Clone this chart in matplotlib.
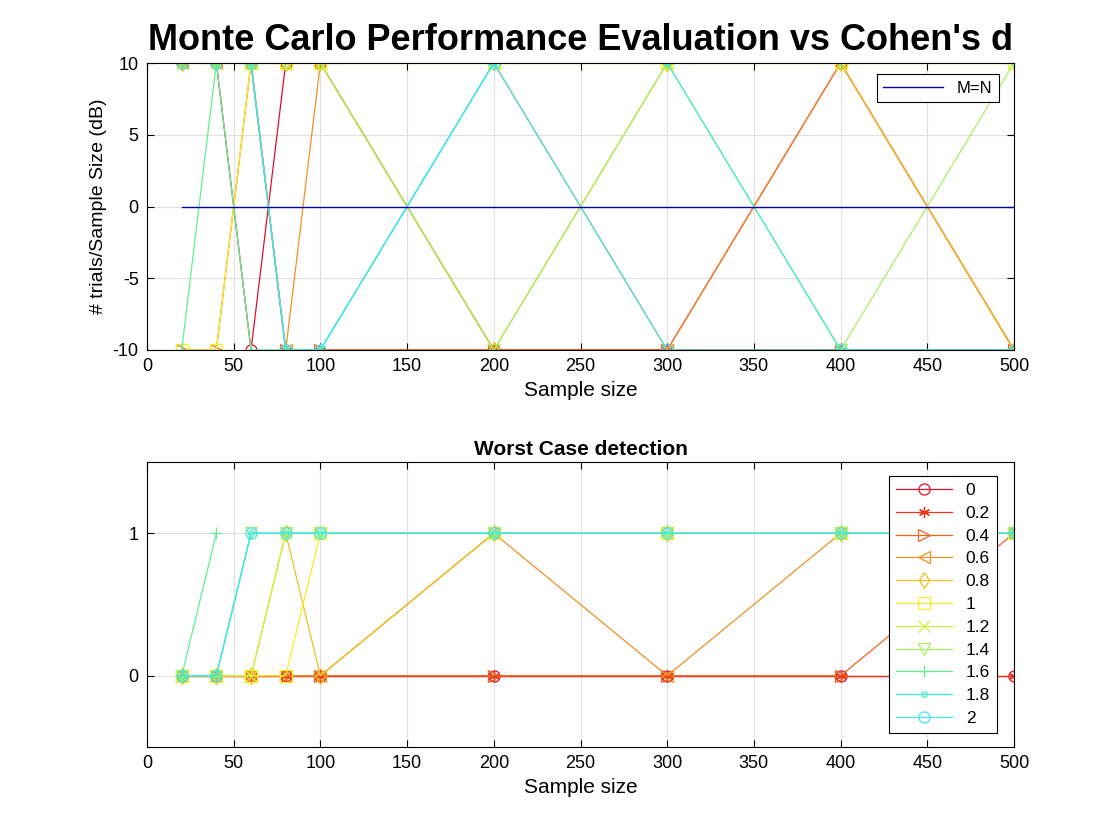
import numpy as np
import matplotlib
matplotlib.use("Agg")
import matplotlib.pyplot as plt

plt.rcParams['font.family'] = ['Liberation Sans', 'DejaVu Sans']
plt.rcParams['axes.unicode_minus'] = False

sample_size = [20, 40, 60, 80, 100, 200, 300, 400, 500]
cohens_d = ['0', '0.2', '0.4', '0.6', '0.8', '1', '1.2', '1.4', '1.6', '1.8', '2']

# Top: # trials / sample size (dB)
db_0 = [10, 10, -10, 10, 10, -10, -10, 10, -10]
db_02 = [10, 10, 10, -10, -10, -10, -10, -10, -10]
db_04 = [-10, -10, 10, -10, -10, -10, -10, -10, -10]
db_06 = [10, 10, 10, -10, 10, 10, -10, 10, -10]
db_08 = [10, 10, 10, 10, 10, -10, 10, 10, -10]
db_10 = [-10, -10, 10, 10, 10, 10, 10, 10, 10]
db_12 = [10, 10, 10, 10, 10, 10, 10, 10, 10]
db_14 = [10, 10, 10, 10, 10, -10, 10, -10, 10]
db_16 = [-10, 10, -10, -10, -10, 10, 10, 10, 10]
db_18 = [10, 10, 10, -10, -10, 10, 10, -10, -10]
db_20 = [10, 10, 10, -10, -10, 10, -10, -10, -10]
mn_line = [0, 0, 0, 0, 0, 0, 0, 0, 0]

# Bottom: worst case detection
wc_0 = [0, 0, 0, 0, 0, 0, 0, 0, 0]
wc_02 = [0, 0, 0, 0, 0, 0, 0, 0, 0]
wc_04 = [0, 0, 0, 0, 0, 0, 0, 0, 1]
wc_06 = [0, 0, 0, 0, 0, 1, 0, 1, 1]
wc_08 = [0, 0, 0, 1, 0, 1, 1, 1, 1]
wc_10 = [0, 0, 0, 0, 1, 1, 1, 1, 1]
wc_12 = [0, 0, 0, 1, 1, 1, 1, 1, 1]
wc_14 = [0, 0, 1, 1, 1, 1, 1, 1, 1]
wc_16 = [0, 1, np.nan, np.nan, np.nan, np.nan, np.nan, np.nan, np.nan]
wc_18 = [0, 0, 1, 1, 1, 1, 1, 1, 1]
wc_20 = [0, 0, 1, 1, 1, 1, 1, 1, 1]

top_series = [db_0, db_02, db_04, db_06, db_08, db_10, db_12, db_14, db_16, db_18, db_20]
bot_series = [wc_0, wc_02, wc_04, wc_06, wc_08, wc_10, wc_12, wc_14, wc_16, wc_18, wc_20]

colors = ['#e3102c', '#f03018', '#f06420', '#f09022', '#f0c020', '#f8f020',
          '#d2f040', '#a8f060', '#60f090', '#40f0c8', '#40e6f0']
markers = ['o', (6, 2, 0), '>', '<', 'd', 's', 'x', 'v', '+', '.', 'o']


def style_axes(ax):
    ax.grid(True, color='#e0e0e0', linewidth=0.8)
    ax.set_axisbelow(True)
    ax.tick_params(direction='in', top=True, right=True, labelsize=13,
                   length=5, width=0.8, pad=6)
    for s in ax.spines.values():
        s.set_linewidth(0.8)
        s.set_color('black')


fig = plt.figure(figsize=(11.2, 8.4), dpi=100)

ax1 = fig.add_axes([147/1120, 1-350/840, 867/1120, 287/840])
for ys, c, m in zip(top_series, colors, markers):
    ax1.plot(sample_size, ys, color=c, marker=m, markersize=8,
             markerfacecolor='none', markeredgecolor=c, linewidth=0.9,
             markeredgewidth=0.9)
mn, = ax1.plot(sample_size, mn_line, color='#0000a8', linewidth=1.0, label='M=N')
ax1.set_xlim(0, 500)
ax1.set_ylim(-10, 10)
ax1.set_xticks(np.arange(0, 501, 50))
ax1.set_yticks([-10, -5, 0, 5, 10])
ax1.set_xlabel('Sample size', fontsize=15)
ax1.set_ylabel('# trials/Sample Size (dB)', fontsize=14)
ax1.set_title("Monte Carlo Performance Evaluation vs Cohen's d",
              fontsize=26, fontweight='bold', pad=9)
style_axes(ax1)
leg1 = ax1.legend(handles=[mn], loc='upper right',
                  bbox_to_anchor=(0.9827, 0.9617), borderaxespad=0,
                  fontsize=12, fancybox=False, edgecolor='black', framealpha=1,
                  handlelength=3.6)
leg1.get_frame().set_linewidth(0.8)

ax2 = fig.add_axes([147/1120, 1-747/840, 867/1120, 285/840])
for ys, c, m, lab in zip(bot_series, colors, markers, cohens_d):
    ax2.plot(sample_size, ys, color=c, marker=m, markersize=8,
             markerfacecolor='none', markeredgecolor=c, linewidth=0.9,
             markeredgewidth=0.9, label=lab)
ax2.set_xlim(0, 500)
ax2.set_ylim(-0.5, 1.5)
ax2.set_xticks(np.arange(0, 501, 50))
ax2.set_yticks([0, 1])
ax2.set_xlabel('Sample size', fontsize=15)
ax2.set_title('Worst Case detection', fontsize=15, fontweight='bold', pad=5)
style_axes(ax2)
leg2 = ax2.legend(loc='upper right', bbox_to_anchor=(0.9804, 0.951),
                  borderaxespad=0, fontsize=12.5, fancybox=False,
                  edgecolor='black', framealpha=1, handlelength=3.2,
                  labelspacing=0.44)
leg2.get_frame().set_linewidth(0.8)

fig.savefig('out.png', dpi=100)
